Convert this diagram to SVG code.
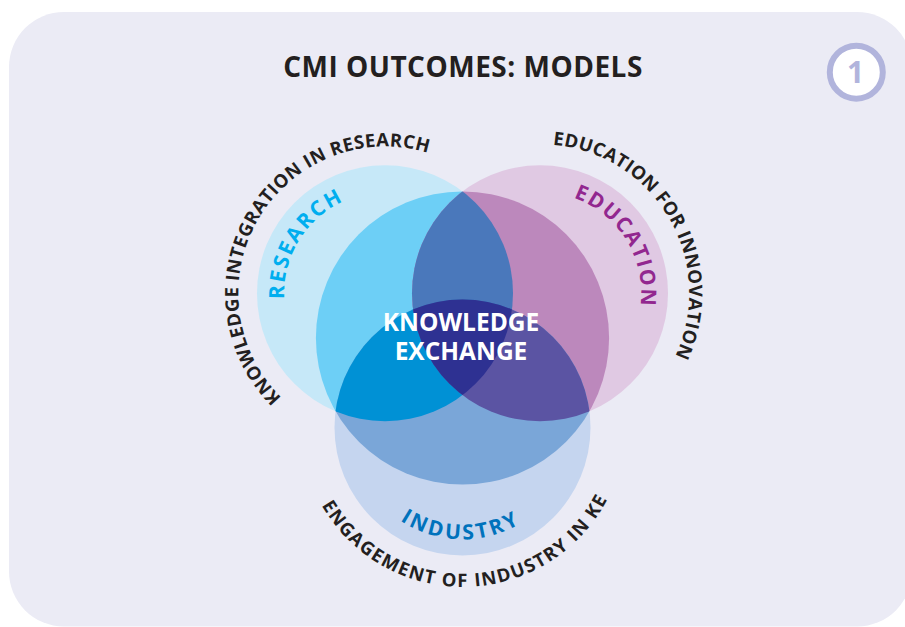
<svg xmlns="http://www.w3.org/2000/svg" width="905" height="627" viewBox="0 0 905 627">
  <style>
    .title { font-family: "Open Sans", "Liberation Sans", sans-serif; font-weight: 700; font-size: 28px; letter-spacing: 0.5px; fill: #231f20; text-anchor: middle; }
    .ring { font-family: "Open Sans", "Liberation Sans", sans-serif; font-weight: 700; font-size: 18.5px; fill: #231f20; }
    .label { font-family: "Open Sans", "Liberation Sans", sans-serif; font-weight: 700; font-size: 21px; }
    .ke { font-family: "Open Sans", "Liberation Sans", sans-serif; font-weight: 700; font-size: 24.5px; fill: #ffffff; text-anchor: middle; }
    .badge { font-family: "Open Sans", "Liberation Sans", sans-serif; font-weight: 700; font-size: 30px; fill: #b1b4dc; text-anchor: middle; }
  </style>
  <defs>
    <clipPath id="clipR"><circle cx="385" cy="293.3" r="128"/></clipPath>
    <clipPath id="clipE"><circle cx="540" cy="293.3" r="128"/></clipPath>
    <clipPath id="clipK"><circle cx="462.5" cy="338" r="146.6"/></clipPath>
    <!-- baselines for the curved labels -->
    <path id="arcResOuter" d="M298.6,412.2 A147,147 0 0 1 449.4,161.2"/>
    <path id="arcResInner" d="M324.8,374.4 A101,101 0 0 1 430.2,203"/>
    <path id="arcEduOuter" d="M477,158.3 A149,149 0 0 1 625.5,415.4"/>
    <path id="arcEduInner" d="M494.9,202.9 A101,101 0 0 1 600.1,374.5"/>
    <path id="arcIndOuter" d="M301.2,444.5 A163,163 0 0 0 625.4,436.6"/>
    <path id="arcIndInner" d="M350.8,435.3 A112,112 0 0 0 573.9,439.2"/>
  </defs>

  <!-- panel -->
  <rect x="9" y="12" width="903" height="614.5" rx="55" ry="55" fill="#ebebf5"/>

  <text class="title" x="463" y="76.7">CMI OUTCOMES: MODELS</text>

  <g id="badge">
    <circle cx="856.3" cy="72.2" r="26.5" fill="#ffffff" stroke="#b1b4dc" stroke-width="6"/>
    <text class="badge" x="855.5" y="83.3">1</text>
  </g>

  <!-- outer discs -->
  <g id="research">
    <circle cx="385" cy="293.3" r="128" fill="#c6e8f8"/>
  </g>
  <g id="education">
    <circle cx="540" cy="293.3" r="128" fill="#e0c9e3"/>
  </g>
  <g id="industry">
    <circle cx="462.5" cy="427.5" r="128" fill="#c5d5ef"/>
  </g>

  <!-- deeper tones inside the exchange zone -->
  <g id="exchange-zone">
    <g clip-path="url(#clipK)">
      <circle cx="385" cy="293.3" r="128" fill="#6dcff6"/>
      <circle cx="540" cy="293.3" r="128" fill="#bc88bc"/>
      <circle cx="462.5" cy="427.5" r="128" fill="#7aa6d8"/>
    </g>
    <circle cx="540" cy="293.3" r="128" fill="#4a78bb" clip-path="url(#clipR)"/>
    <circle cx="462.5" cy="427.5" r="128" fill="#0091d5" clip-path="url(#clipR)"/>
    <circle cx="462.5" cy="427.5" r="128" fill="#5b54a3" clip-path="url(#clipE)"/>
    <g clip-path="url(#clipE)">
      <circle cx="462.5" cy="427.5" r="128" fill="#2e3192" clip-path="url(#clipR)"/>
    </g>
  </g>

  <!-- circle names -->
  <text class="label" fill="#00aeef" letter-spacing="2"><textPath href="#arcResInner" startOffset="50%" text-anchor="middle">RESEARCH</textPath></text>
  <text class="label" fill="#92278f" letter-spacing="1.6"><textPath href="#arcEduInner" startOffset="50%" text-anchor="middle">EDUCATION</textPath></text>
  <text class="label" fill="#0072bc" letter-spacing="2.8"><textPath href="#arcIndInner" startOffset="50%" text-anchor="middle">INDUSTRY</textPath></text>

  <!-- ring captions -->
  <text class="ring" letter-spacing="0.45"><textPath href="#arcResOuter" startOffset="50%" text-anchor="middle">KNOWLEDGE INTEGRATION IN RESEARCH</textPath></text>
  <text class="ring" letter-spacing="0.35"><textPath href="#arcEduOuter" startOffset="50%" text-anchor="middle">EDUCATION FOR INNOVATION</textPath></text>
  <text class="ring" letter-spacing="1.4"><textPath href="#arcIndOuter" startOffset="50%" text-anchor="middle">ENGAGEMENT OF INDUSTRY IN KE</textPath></text>

  <g id="knowledge-exchange">
    <text class="ke" x="461" y="331">KNOWLEDGE</text>
    <text class="ke" x="461" y="360">EXCHANGE</text>
  </g>
</svg>
